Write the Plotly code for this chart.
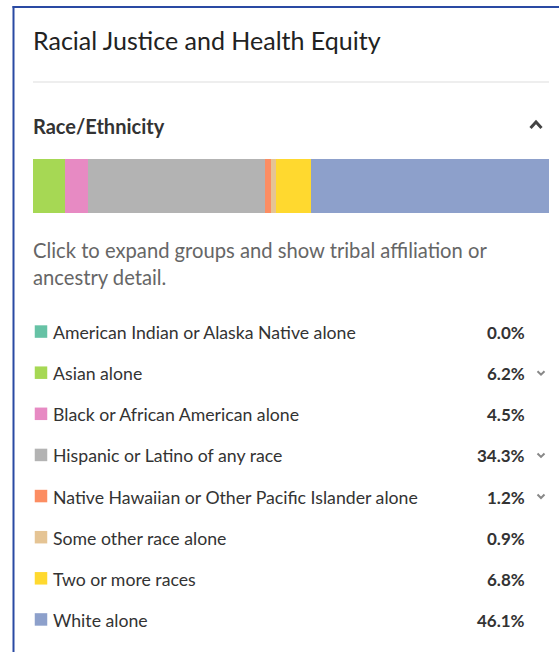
import plotly.graph_objects as go

# ---------------- data ----------------
categories = [
    "American Indian or Alaska Native alone",
    "Asian alone",
    "Black or African American alone",
    "Hispanic or Latino of any race",
    "Native Hawaiian or Other Pacific Islander alone",
    "Some other race alone",
    "Two or more races",
    "White alone",
]
shares = [0.0, 6.2, 4.5, 34.3, 1.2, 0.9, 6.8, 46.1]
value_labels = ["0.0%", "6.2%", "4.5%", "34.3%", "1.2%", "0.9%", "6.8%", "46.1%"]
has_detail = [False, True, False, True, True, False, False, False]
colors = ["#66c2a5", "#a6d854", "#e78ac3", "#b3b3b3",
          "#fc8d62", "#e5c494", "#ffd92f", "#8da0cb"]

title_text = "Racial Justice and Health Equity"
section_text = "Race/Ethnicity"
note_lines = ["Click to expand groups and show tribal affiliation or",
              "ancestry detail."]

# ---------------- layout helpers ----------------
W, H = 559, 652
FONT = "Lato, 'Open Sans', sans-serif"


def fx(x):
    return x / W


def fy(y):
    return 1 - y / H


fig = go.Figure()

# stacked composition bar
for cat, val, col in zip(categories, shares, colors):
    fig.add_trace(go.Bar(
        x=[val], y=[0], orientation="h", width=1,
        marker=dict(color=col, line=dict(width=0)),
        name=cat, hoverinfo="skip", showlegend=False,
        xaxis="x", yaxis="y",
    ))

# legend swatches
rows = list(range(len(categories)))
fig.add_trace(go.Scatter(
    x=[41] * len(categories), y=rows, mode="markers",
    marker=dict(symbol="square", size=12.5, color=colors, line=dict(width=0)),
    hoverinfo="skip", showlegend=False, xaxis="x2", yaxis="y2",
))

annotations = []
shapes = []
for i, (cat, lab, det) in enumerate(zip(categories, value_labels, has_detail)):
    annotations.append(dict(
        x=51, y=i, xref="x2", yref="y2", text=cat, showarrow=False,
        xanchor="left", yanchor="middle", yshift=-1,
        font=dict(family=FONT, size=17.7, color="#333333"),
    ))
    annotations.append(dict(
        x=527, y=i, xref="x2", yref="y2", text=lab, showarrow=False,
        xanchor="right", yanchor="middle", yshift=-1,
        font=dict(family=FONT, size=17, color="#333333", weight=700),
    ))
    if det:
        shapes.append(dict(
            type="path", xref="x2", yref="y2",
            xsizemode="pixel", ysizemode="pixel", xanchor=541, yanchor=i,
            path="M -3.5,1.5 L 0,-2 L 3.5,1.5",
            line=dict(color="#888888", width=2),
        ))

# title, section header, note
annotations += [
    dict(x=fx(31), y=fy(40), xref="paper", yref="paper", text=title_text,
         showarrow=False, xanchor="left", yanchor="middle",
         font=dict(family=FONT, size=25, color="#222222")),
    dict(x=fx(31), y=fy(126), xref="paper", yref="paper", text=section_text,
         showarrow=False, xanchor="left", yanchor="middle",
         font=dict(family=FONT, size=20, color="#333333", weight=700)),
    dict(x=fx(31), y=fy(250), xref="paper", yref="paper", text=note_lines[0],
         showarrow=False, xanchor="left", yanchor="middle",
         font=dict(family=FONT, size=20.2, color="#666666")),
    dict(x=fx(31), y=fy(277), xref="paper", yref="paper", text=note_lines[1],
         showarrow=False, xanchor="left", yanchor="middle",
         font=dict(family=FONT, size=20.2, color="#666666")),
]

shapes += [
    # card border (left and top)
    dict(type="line", xref="paper", yref="paper", x0=fx(13.5), x1=fx(13.5),
         y0=0, y1=fy(6), line=dict(color="#2a4aa3", width=2)),
    dict(type="line", xref="paper", yref="paper", x0=fx(12.5), x1=1,
         y0=fy(7), y1=fy(7), line=dict(color="#2a4aa3", width=2)),
    # separator
    dict(type="line", xref="paper", yref="paper", x0=fx(33), x1=fx(549),
         y0=fy(82), y1=fy(82), line=dict(color="#dddddd", width=1)),
    # collapse chevron of the section header
    dict(type="path", xref="paper", yref="paper",
         xsizemode="pixel", ysizemode="pixel", xanchor=fx(536), yanchor=fy(125),
         path="M -5.5,-3 L 0,3 L 5.5,-3",
         line=dict(color="#444444", width=3)),
]

fig.update_layout(
    width=W, height=H, margin=dict(l=0, r=0, t=0, b=0),
    paper_bgcolor="white", plot_bgcolor="white",
    barmode="stack", bargap=0, showlegend=False,
    font=dict(family=FONT),
    xaxis=dict(domain=[fx(33), fx(549)], range=[0, 100], visible=False,
               fixedrange=True, anchor="y"),
    yaxis=dict(domain=[fy(213), fy(159)], range=[-0.5, 0.5], visible=False,
               fixedrange=True, anchor="x"),
    xaxis2=dict(domain=[0, 1], range=[0, W], visible=False,
                fixedrange=True, anchor="y2"),
    yaxis2=dict(domain=[fy(640), fy(311)], range=[7.5, -0.5], visible=False,
                fixedrange=True, anchor="x2"),
    annotations=annotations,
    shapes=shapes,
)

fig.write_html("out.html", config={"displayModeBar": False})
